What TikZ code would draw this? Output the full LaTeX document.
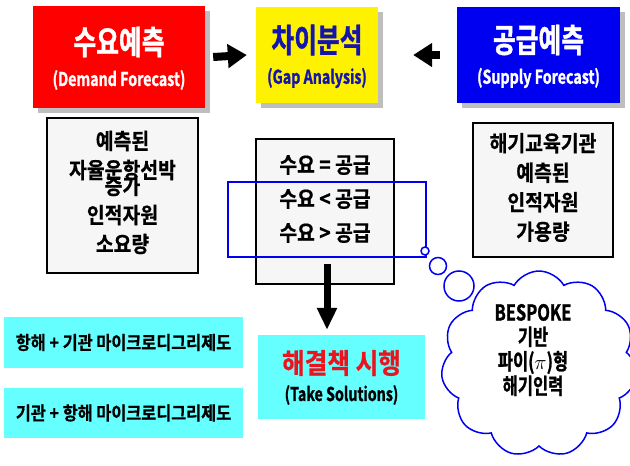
\documentclass[tikz,border=0pt]{standalone}
\usepackage{fontspec}
\setmainfont{Noto Sans CJK KR}
\newfontfamily\hd{Noto Sans CJK KR}[UprightFont=* Bold, FakeStretch=0.75, FakeBold=1.2]
\newfontfamily\bd{Noto Sans CJK KR}[UprightFont=* Bold, FakeStretch=0.88, FakeBold=0.6]
\usetikzlibrary{shapes.symbols,shadows,arrows.meta}
\definecolor{cyanbox}{RGB}{102,255,255}
\definecolor{navy}{RGB}{20,20,175}
\definecolor{pureblue}{RGB}{0,0,240}
\definecolor{lightgray}{RGB}{246,246,246}
\definecolor{shadowgray}{RGB}{190,190,190}
\definecolor{solred}{RGB}{235,20,30}
\begin{document}
\begin{tikzpicture}[x=1pt,y=-1pt,
  topbox/.style={draw=none, inner sep=0pt, drop shadow={shadow xshift=5pt, shadow yshift=-5pt, fill=shadowgray, opacity=1}},
  graybox/.style={draw=black, line width=1.4pt, fill=lightgray, inner sep=0pt},
  cyanrect/.style={draw=none, fill=cyanbox, inner sep=0pt},
  titletext/.style={font=\hd\fontsize{33}{33}\selectfont, inner sep=0pt},
  subtext/.style={font=\hd\fontsize{19}{19}\selectfont, inner sep=0pt},
  bodytext/.style={font=\bd\fontsize{22}{29}\selectfont, align=center, inner sep=0pt},
  bigarrow/.style={line width=8pt, -{Triangle[length=19pt,width=23pt]}},
  downarrow/.style={line width=7pt, -{Triangle[length=22pt,width=19pt]}},
  bluestroke/.style={draw=pureblue, line width=1.5pt}
]
\useasboundingbox (0,0) rectangle (630,466);
\clip (0,0) rectangle (630,466);

% top boxes
\node[topbox, fill=red, minimum width=172pt, minimum height=102pt] (demand) at (119,57) {};
\node[topbox, fill=yellow, minimum width=122pt, minimum height=96pt] (gap) at (317,55) {};
\node[topbox, fill=pureblue, minimum width=163pt, minimum height=96pt] (supply) at (538.5,55) {};

\node[titletext, text=white] (demandT) at (119,42) {수요예측};
\node[subtext, text=white] (demandS) at (119,80) {(Demand Forecast)};
\node[titletext, text=navy] (gapT) at (317,40) {차이분석};
\node[subtext, text=navy] (gapS) at (317,78) {(Gap Analysis)};
\node[titletext, text=white] (supplyT) at (538.5,40) {공급예측};
\node[subtext, text=white] (supplyS) at (538.5,78) {(Supply Forecast)};

% top arrows
\draw[bigarrow] ([xshift=8pt]demand.east) -- ([xshift=-9pt]gap.west);
\draw[bigarrow] ([xshift=-17pt]supply.west) -- ([xshift=35pt]gap.east);

% gray boxes
\node[graybox, minimum width=151pt, minimum height=155pt] (need) at (122.5,195.5) {};
\node[bodytext] (needT) at (122.5,192.5) {예측된\\ 자율운항선박\\[-13pt] 증가\\ 인적자원\\ 소요량};

\node[graybox, minimum width=138pt, minimum height=145pt] (gapbox) at (325,211.5) {};
\node[bodytext, font=\bd\fontsize{22}{34}\selectfont] (gapboxT) at (325,199) {수요 = 공급\\ 수요 < 공급\\ 수요 > 공급};

\node[graybox, minimum width=140pt, minimum height=134pt] (avail) at (543,190) {};
\node[bodytext, font=\bd\fontsize{22}{29.5}\selectfont] (availT) at (543,187.5) {해기교육기관\\ 예측된\\ 인적자원\\ 가용량};

% blue highlight rectangle
\node[draw=pureblue, line width=2.3pt, minimum width=198pt, minimum height=75pt, inner sep=0pt] (hl) at (327,219.5) {};

% down arrow
\coordinate (dA) at ([xshift=2pt,yshift=21pt]gapbox.south);

% cyan boxes
\node[cyanrect, minimum width=239pt, minimum height=51pt, font=\bd\fontsize{18.5}{18.5}\selectfont] (opt1) at (123.5,342.5) {항해 + 기관 마이크로디그리제도};
\node[cyanrect, minimum width=239pt, minimum height=50pt, font=\bd\fontsize{18.5}{18.5}\selectfont] (opt2) at (123.5,413) {기관 + 항해 마이크로디그리제도};
\node[cyanrect, minimum width=167pt, minimum height=84pt] (sol) at (341.5,377) {};
\node[font=\bd\fontsize{28}{28}\selectfont, text=solred, inner sep=0pt] (solT) at (341.5,363) {해결책 시행};
\node[subtext] (solS) at (341.5,395) {(Take Solutions)};

\draw[downarrow] (dA) -- ([yshift=5pt]dA |- sol.north);

% thought cloud
\node[cloud, cloud puffs=11, cloud puff arc=120, bluestroke, fill=white, minimum width=196pt, minimum height=186pt, inner sep=0pt] (cloud) at (539,364) {};
\node[bluestroke, circle, fill=white, minimum size=8pt, inner sep=0pt] (b1) at (425,251) {};
\node[bluestroke, circle, fill=white, minimum size=17pt, inner sep=0pt] (b2) at (438,266) {};
\node[bluestroke, circle, fill=white, minimum size=30pt, inner sep=0pt] (b3) at (459,286) {};
\node[font=\hd\fontsize{22}{24.5}\selectfont, align=center, inner sep=0pt] (cloudT) at (533,350) {BESPOKE\\ 기반\\ 파이($\pi$)형\\ 해기인력};
\end{tikzpicture}
\end{document}
